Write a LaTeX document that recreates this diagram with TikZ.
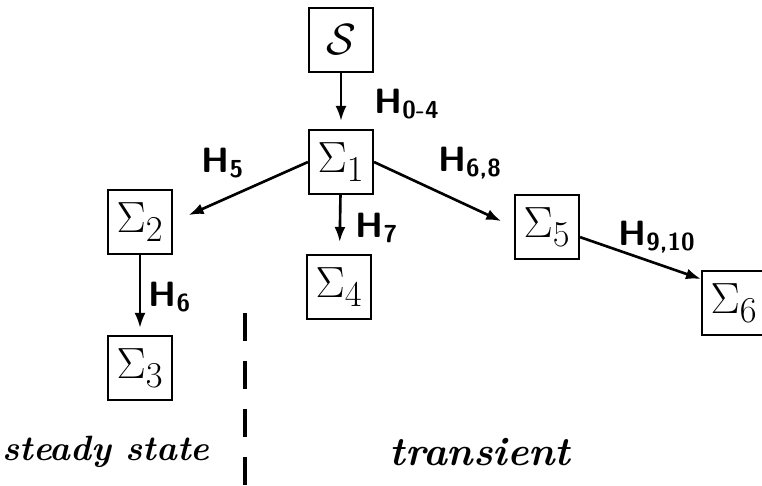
\documentclass[tikz,border=0pt]{standalone}
\usetikzlibrary{arrows.meta}
\tikzset{
  box/.style={draw,line width=1.2pt,minimum size=1.28cm,inner sep=0pt,font=\fontsize{32}{32}\selectfont},
  arr/.style={line width=1.5pt,-{Latex[length=3mm,width=2.2mm]}},
  lab/.style={font=\fontsize{20}{20}\selectfont\sffamily\bfseries},
  side/.style={font=\fontsize{20}{20}\selectfont\itshape\bfseries}
}
\newcommand{\hsub}[1]{H\textsubscript{#1}}
\begin{document}
\begin{tikzpicture}[x=0.02cm,y=-0.02cm]
                \useasboundingbox (0,0) rectangle (762,485);
                \node[box] (s) at (341,40) {$\mathcal{S}$};
                \node[box] (s1) at (341,162) {$\Sigma_1$};
                \node[box] (s2) at (140,222) {$\Sigma_2$};
                \node[box] (s3) at (140,368) {$\Sigma_3$};
                \node[box] (s4) at (339,287) {$\Sigma_4$};
                \node[box] (s5) at (547,227) {$\Sigma_5$};
                \node[box] (s6) at (734,303) {$\Sigma_6$};
                \draw[arr,shorten >=0.16cm] (s) -- (s1);
                \draw[arr,shorten >=0.34cm] (s1.west) -- (s2.east);
                \draw[arr,shorten >=0.24cm] (s1) -- (s4);
                \draw[arr,shorten >=0.28cm] (s1.east) -- (s5.west);
                \draw[arr,shorten >=0.14cm] (s2.south) -- (s3.north);
                \draw[arr] (s5.-17) -- (s6.144);
                \node[lab] (h04) at (407,104) {\hsub{0-4}};
                \node[lab] (h5) at (223,163) {\hsub{5}};
                \node[lab] (h68) at (470,163) {\hsub{6,8}};
                \node[lab] (h7) at (377,228) {\hsub{7}};
                \node[lab] (h6) at (170,297) {\hsub{6}};
                \node[lab] (h910) at (657,237) {\hsub{9,10}};
                \draw[line width=2pt,dash pattern=on 0.56cm off 0.4cm] (245,313) -- (245,485);
                \node[side] (steady) at (106,452) {steady state};
                \node[side,font=\fontsize{23}{23}\selectfont\itshape\bfseries] (trans) at (480,452) {transient};
            \end{tikzpicture}
\end{document}
